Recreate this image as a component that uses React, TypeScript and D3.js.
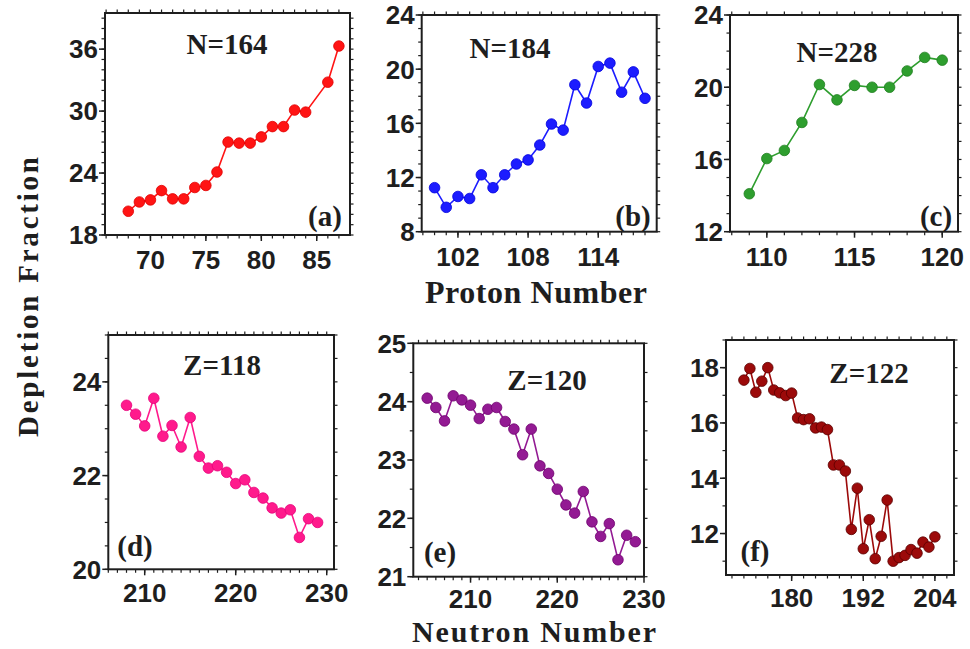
import React from 'react';
import * as d3 from 'd3';

// (a) N=164, depletion vs proton number
const protonA = [68, 69, 70, 71, 72, 73, 74, 75, 76, 77, 78, 79, 80, 81, 82, 83, 84, 86, 87];
const depA = [20.3, 21.2, 21.4, 22.3, 21.5, 21.5, 22.6, 22.8, 24.1, 27.0, 26.9, 26.9, 27.5, 28.5, 28.5, 30.1, 29.9, 32.8, 36.3];

// (b) N=184
const protonB = [100, 101, 102, 103, 104, 105, 106, 107, 108, 109, 110, 111, 112, 113, 114, 115, 116, 117, 118];
const depB = [11.25, 9.8, 10.6, 10.45, 12.2, 11.25, 12.2, 13.0, 13.3, 14.4, 15.95, 15.5, 18.85, 17.5, 20.2, 20.45, 18.3, 19.8, 17.85];

// (c) N=228
const protonC = [109, 110, 111, 112, 113, 114, 115, 116, 117, 118, 119, 120];
const depC = [14.1, 16.05, 16.5, 18.05, 20.15, 19.3, 20.1, 20.0, 20.0, 20.9, 21.65, 21.5];

// (d) Z=118, depletion vs neutron number
const neutronD = [208, 209, 210, 211, 212, 213, 214, 215, 216, 217, 218, 219, 220, 221, 222, 223, 224, 225, 226, 227, 228, 229];
const depD = [23.5, 23.31, 23.06, 23.65, 22.84, 23.07, 22.61, 23.24, 22.41, 22.16, 22.21, 22.07, 21.83, 21.91, 21.64, 21.52, 21.31, 21.2, 21.27, 20.68, 21.08, 21.0];

// (e) Z=120
const neutronE = [205, 206, 207, 208, 209, 210, 211, 212, 213, 214, 215, 216, 217, 218, 219, 220, 221, 222, 223, 224, 225, 226, 227, 228, 229];
const depE = [24.06, 23.9, 23.67, 24.1, 24.03, 23.94, 23.71, 23.87, 23.9, 23.66, 23.53, 23.09, 23.53, 22.9, 22.77, 22.5, 22.23, 22.09, 22.46, 21.94, 21.69, 21.91, 21.29, 21.71, 21.6];

// (f) Z=122
const neutronF = [172, 173, 174, 175, 176, 177, 178, 179, 180, 181, 182, 183, 184, 185, 186, 187, 188, 189, 190, 191, 192, 193, 194, 195, 196, 197, 198, 199, 200, 201, 202, 203, 204];
const depF = [17.55, 17.97, 17.11, 17.51, 18.0, 17.19, 17.09, 16.99, 17.08, 16.18, 16.12, 16.15, 15.82, 15.85, 15.76, 14.48, 14.48, 14.26, 12.15, 13.64, 11.45, 12.5, 11.09, 11.9, 13.21, 11.0, 11.13, 11.21, 11.42, 11.29, 11.69, 11.51, 11.88];

// tick labels
const xTicksA = [70, 75, 80, 85];
const yTicksA = [18, 24, 30, 36];
const xTicksB = [102, 108, 114];
const yTicksB = [8, 12, 16, 20, 24];
const xTicksC = [110, 115, 120];
const yTicksC = [12, 16, 20, 24];
const xTicksD = [210, 220, 230];
const yTicksD = [20, 22, 24];
const xTicksE = [210, 220, 230];
const yTicksE = [21, 22, 23, 24, 25];
const xTicksF = [180, 192, 204];
const yTicksF = [12, 14, 16, 18];

const panels = [
  { id: 'a', title: 'N=164', x: protonA, y: depA, xTicks: xTicksA, yTicks: yTicksA,
    box: [105, 350, 13, 235], xDom: [65.9, 88], yDom: [18, 39.5], xMinor: 1, yMinor: 1,
    color: '#ff1414', stroke: '#e00000', titlePos: [227, 54], labPos: [325, 226], tickDy: 34 },
  { id: 'b', title: 'N=184', x: protonB, y: depB, xTicks: xTicksB, yTicks: yTicksB,
    box: [421.7, 656.7, 15, 231.7], xDom: [98.9, 119], yDom: [8, 24], xMinor: 1, yMinor: 1,
    color: '#1c1cff', stroke: '#0000dd', titlePos: [510, 58], labPos: [633, 226], tickDy: 34 },
  { id: 'c', title: 'N=228', x: protonC, y: depC, xTicks: xTicksC, yTicks: yTicksC,
    box: [730, 958, 15, 231.7], xDom: [107.9, 120.9], yDom: [12, 24], xMinor: 1, yMinor: 1,
    color: '#2e9e2e', stroke: '#1f7f1f', titlePos: [837, 62], labPos: [936, 226], tickDy: 34 },
  { id: 'd', title: 'Z=118', x: neutronD, y: depD, xTicks: xTicksD, yTicks: yTicksD,
    box: [108.3, 334, 335, 569.3], xDom: [206, 230.8], yDom: [20, 25], xMinor: 1, yMinor: 0.5,
    color: '#ff1a8c', stroke: '#e6007a', titlePos: [222, 375], labPos: [135, 556], tickDy: 33 },
  { id: 'e', title: 'Z=120', x: neutronE, y: depE, xTicks: xTicksE, yTicks: yTicksE,
    box: [413.3, 644, 343.3, 576.7], xDom: [203.4, 230], yDom: [21, 25], xMinor: 1, yMinor: 0.5,
    color: '#931a93', stroke: '#6e006e', titlePos: [547, 390], labPos: [440, 562], tickDy: 31 },
  { id: 'f', title: 'Z=122', x: neutronF, y: depF, xTicks: xTicksF, yTicks: yTicksF,
    box: [726, 954, 340, 575], xDom: [169, 207.2], yDom: [10.5, 19], xMinor: 2, yMinor: 1,
    color: '#9c0a0a', stroke: '#5a0000', titlePos: [869, 383], labPos: [755, 561], tickDy: 32 },
];

const serif = '"Liberation Serif", "Times New Roman", serif';
const sans = '"Liberation Sans", Arial, sans-serif';
const ink = '#1e1e1e';

function Panel({ p }) {
  const [l, r, t, b] = p.box;
  const x = d3.scaleLinear().domain(p.xDom).range([l, r]);
  const y = d3.scaleLinear().domain(p.yDom).range([b, t]);
  const line = d3.line<number>().x((d, i) => x(p.x[i])).y(d => y(d));

  const xMin = d3.range(Math.ceil(p.xDom[0] / p.xMinor) * p.xMinor, p.xDom[1], p.xMinor);
  const yMin = d3.range(Math.ceil(p.yDom[0] / p.yMinor) * p.yMinor, p.yDom[1] + 1e-6, p.yMinor);

  return (
    <g>
      {/* minor + major ticks, outward on all four sides */}
      {xMin.map(v => (
        <g key={'xm' + v} stroke={ink} strokeWidth={1.2}>
          <line x1={x(v)} x2={x(v)} y1={b} y2={b + 3.5} />
          <line x1={x(v)} x2={x(v)} y1={t} y2={t - 3.5} />
        </g>
      ))}
      {yMin.map(v => (
        <g key={'ym' + v} stroke={ink} strokeWidth={1.2}>
          <line x1={l} x2={l - 3.5} y1={y(v)} y2={y(v)} />
          <line x1={r} x2={r + 3.5} y1={y(v)} y2={y(v)} />
        </g>
      ))}
      {p.xTicks.map(v => (
        <g key={'xt' + v}>
          <line x1={x(v)} x2={x(v)} y1={b} y2={b + 6} stroke={ink} strokeWidth={1.5} />
          <text x={x(v)} y={b + p.tickDy} textAnchor="middle" fontFamily={sans} fontWeight="bold"
            fontSize={26} fill={ink}>{v}</text>
        </g>
      ))}
      {p.yTicks.map(v => (
        <g key={'yt' + v}>
          <line x1={l} x2={l - 6} y1={y(v)} y2={y(v)} stroke={ink} strokeWidth={1.5} />
          <text x={l - 7} y={y(v)} dy="0.36em" textAnchor="end" fontFamily={sans}
            fontWeight="bold" fontSize={26} fill={ink}>{v}</text>
        </g>
      ))}
      <rect x={l} y={t} width={r - l} height={b - t} fill="none" stroke={ink} strokeWidth={2} />

      <path d={line(p.y) || ''} fill="none" stroke={p.color} strokeWidth={1.6} />
      {p.y.map((v, i) => (
        <circle key={i} cx={x(p.x[i])} cy={y(v)} r={5.3} fill={p.color}
          stroke={p.stroke} strokeWidth={0.8} />
      ))}

      <text x={p.titlePos[0]} y={p.titlePos[1]} textAnchor="middle" fontFamily={serif}
        fontWeight="bold" fontSize={29} fill={ink}>{p.title}</text>
      <text x={p.labPos[0]} y={p.labPos[1]} textAnchor="middle" fontFamily={serif}
        fontWeight="bold" fontSize={29} fill={ink}>{'(' + p.id + ')'}</text>
    </g>
  );
}

export default function App() {
  return (
    <svg width={970} height={649} style={{ position: 'absolute', left: 0, top: 0, background: '#fff' }}>
      <rect width={970} height={649} fill="#fff" />
      {panels.map(p => <Panel key={p.id} p={p} />)}
      <text transform="translate(38,297) rotate(-90)" textAnchor="middle" fontFamily={serif}
        fontWeight="bold" fontSize={29} fill={ink} textLength={280}
        lengthAdjust="spacing">Depletion Fraction</text>
      <text x={536} y={303} textAnchor="middle" fontFamily={serif} fontWeight="bold"
        fontSize={32} fill={ink} textLength={222} lengthAdjust="spacing">Proton Number</text>
      <text x={534} y={642} textAnchor="middle" fontFamily={serif} fontWeight="bold"
        fontSize={30} fill={ink} textLength={244} lengthAdjust="spacing">Neutron Number</text>
    </svg>
  );
}
